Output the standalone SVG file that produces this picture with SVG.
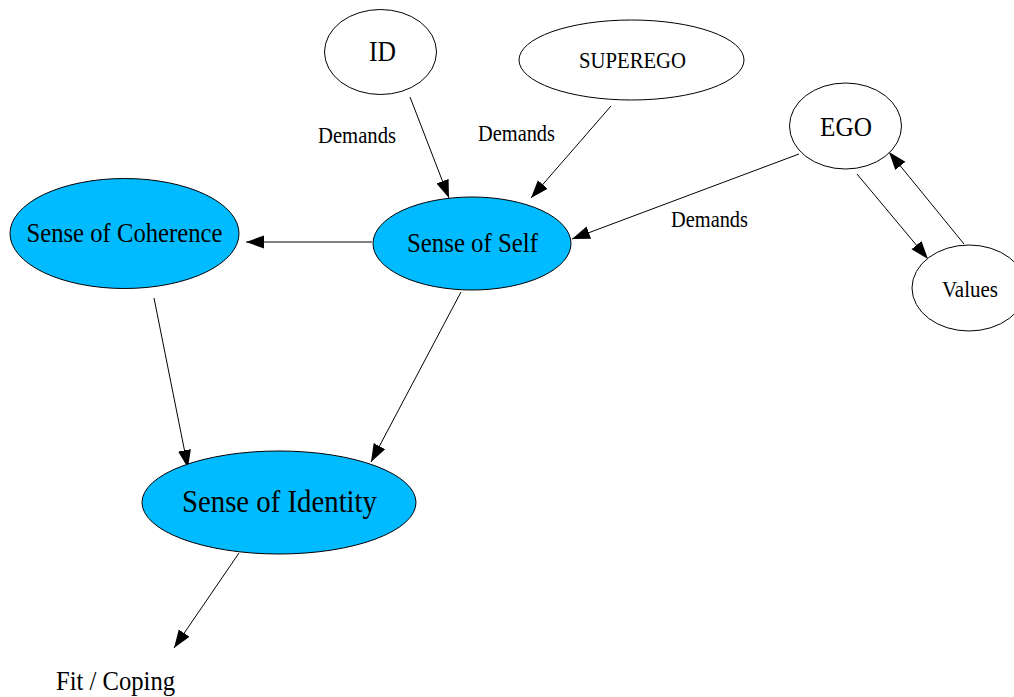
<svg xmlns="http://www.w3.org/2000/svg" width="1014" height="697" viewBox="0 0 1014 697">
<style>
.n{fill:#fff;stroke:#000;stroke-width:1}
.b{fill:#00bbff;stroke:#000;stroke-width:1}
text{font-family:"Liberation Serif","Times New Roman",serif;fill:#000;text-anchor:middle}
.e{stroke:#000;stroke-width:1;fill:none;marker-end:url(#ah)}
</style>
<defs>
<marker id="ah" markerUnits="userSpaceOnUse" markerWidth="19" markerHeight="14" refX="18" refY="7" orient="auto">
<path d="M0,0.5 L18,7 L0,13.5 z" fill="#000"/>
</marker>
</defs>
<rect width="1014" height="697" fill="#fff"/>
<g id="edges">
<line class="e" x1="410" y1="97" x2="449" y2="198"/>
<line class="e" x1="611" y1="106" x2="531" y2="198"/>
<line class="e" x1="799" y1="154" x2="572" y2="239"/>
<line class="e" x1="857" y1="174" x2="928" y2="259"/>
<line class="e" x1="964" y1="244" x2="889" y2="152"/>
<line class="e" x1="372" y1="242" x2="246" y2="242"/>
<line class="e" x1="154" y1="298" x2="188" y2="468"/>
<line class="e" x1="461" y1="292" x2="371" y2="462"/>
<line class="e" x1="239" y1="553" x2="174" y2="648"/>
<text x="357" y="143" font-size="22.5" textLength="78" lengthAdjust="spacingAndGlyphs">Demands</text>
<text x="516.5" y="141" font-size="22.5" textLength="77" lengthAdjust="spacingAndGlyphs">Demands</text>
<text x="709.5" y="227" font-size="22.5" textLength="77" lengthAdjust="spacingAndGlyphs">Demands</text>
</g>
<g id="id"><ellipse class="n" cx="380.5" cy="52" rx="56" ry="42.5"/><text x="382.5" y="61" font-size="28.5" textLength="27" lengthAdjust="spacingAndGlyphs">ID</text></g>
<g id="superego"><ellipse class="n" cx="631.5" cy="60" rx="112.5" ry="40"/><text x="632.5" y="68" font-size="23" textLength="107" lengthAdjust="spacingAndGlyphs">SUPEREGO</text></g>
<g id="ego"><ellipse class="n" cx="845.5" cy="126" rx="56" ry="43"/><text x="846" y="136" font-size="28" textLength="52" lengthAdjust="spacingAndGlyphs">EGO</text></g>
<g id="values"><ellipse class="n" cx="969" cy="288" rx="57" ry="43"/><text x="970" y="297" font-size="22.5" textLength="56" lengthAdjust="spacingAndGlyphs">Values</text></g>
<g id="self"><ellipse class="b" cx="472" cy="243.5" rx="99" ry="46.5"/><text x="472.5" y="252" font-size="27.5" textLength="131" lengthAdjust="spacingAndGlyphs">Sense of Self</text></g>
<g id="coherence"><ellipse class="b" cx="124.5" cy="233.5" rx="114.5" ry="55"/><text x="124.5" y="242" font-size="26.5" textLength="196" lengthAdjust="spacingAndGlyphs">Sense of Coherence</text></g>
<g id="identity"><ellipse class="b" cx="279" cy="502.5" rx="137" ry="51.5"/><text x="279.5" y="512" font-size="32" textLength="195" lengthAdjust="spacingAndGlyphs">Sense of Identity</text></g>
<g id="fit"><text x="115.5" y="690" font-size="27" textLength="119" lengthAdjust="spacingAndGlyphs">Fit / Coping</text></g>
</svg>
